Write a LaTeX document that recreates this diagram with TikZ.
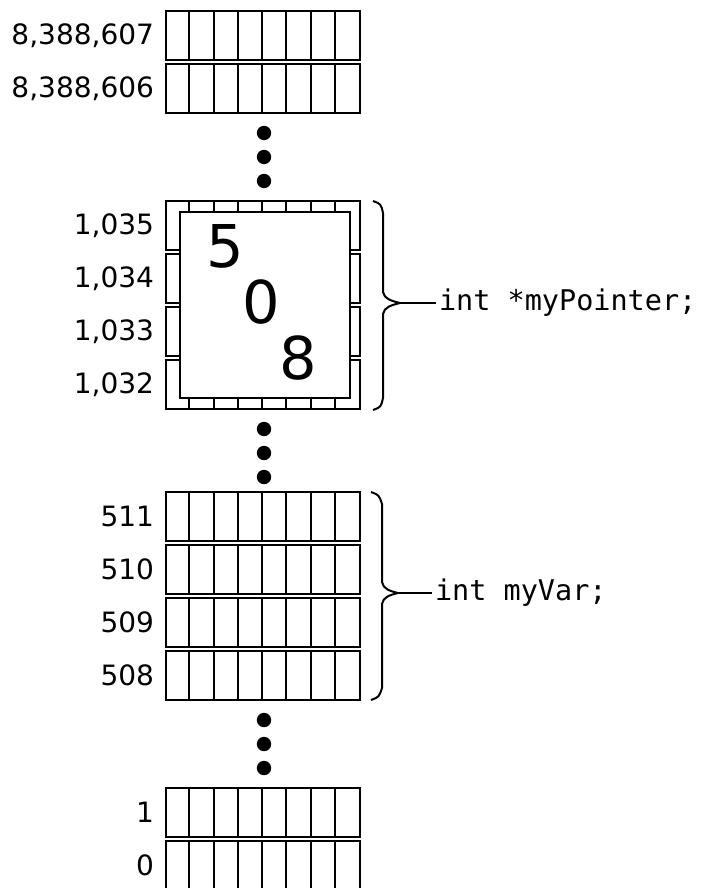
\documentclass[tikz,border=0pt]{standalone}
\usepackage{fontspec}
\setmainfont{DejaVu Sans}
\newfontfamily\declfont{DejaVu Sans Mono}
\newlength{\du}
\setlength{\du}{10\unitlength}
\tikzset{
  memrow/.style={draw, rectangle, minimum width=19.4\du, minimum height=4.9\du, inner sep=0pt},
  addrlbl/.style={anchor=east, inner sep=0pt, font=\fontsize{28pt}{30pt}\selectfont},
  bigdigit/.style={inner sep=0pt, font=\fontsize{59pt}{60pt}\selectfont},
  decllbl/.style={anchor=west, inner sep=0.2\du, font=\declfont\fontsize{28.5pt}{30pt}\selectfont}
}

\begin{document}
\begin{tikzpicture}
\pgftransformxscale{1.000000}
\pgftransformyscale{-1.000000}
\definecolor{dialinecolor}{rgb}{0.000000, 0.000000, 0.000000}
\pgfsetstrokecolor{dialinecolor}
\pgfsetfillcolor{dialinecolor}
\pgfsetlinewidth{0.200000\du}
\path[use as bounding box, fill=white] (0.000000\du,0.000000\du) rectangle (70.700000\du,88.800000\du);
% memory rows, eight bits each
\foreach \nm/\yy/\adr in {8388607/3.55/{8,388,607}, 8388606/8.85/{8,388,606},
    1035/22.55/{1,035}, 1034/27.85/{1,034}, 1033/33.15/{1,033}, 1032/38.45/{1,032},
    511/51.65/511, 510/56.95/510, 509/62.25/509, 508/67.55/508, 1/81.25/1, 0/86.55/0}{
  \node[memrow] (r\nm) at (26.300000\du,\yy\du){};
  \foreach \k in {1,...,7}
    \draw ([xshift=\k*2.425\du]r\nm.north west)--([xshift=\k*2.425\du]r\nm.south west);
  \node[addrlbl] (a\nm) at ([xshift=-1.000000\du]r\nm.west){\adr};
}
% value held by the pointer
\node[draw, fill=white, minimum width=17.000000\du, minimum height=18.600000\du, inner sep=0pt] (ptrbox) at (26.500000\du,30.500000\du){};
\node[bigdigit] (d5) at (22.500000\du,24.600000\du){5};
\node[bigdigit] (d0) at (26.100000\du,30.200000\du){0};
\node[bigdigit] (d8) at (29.800000\du,35.800000\du){8};
% ellipsis dots
\foreach \yy in {13.3,15.7,18.1,42.9,45.3,47.7,72.0,74.4,76.8}
  \fill (26.400000\du,\yy\du) circle (0.720000\du);
% brace for the pointer
\draw (37.300000\du,20.100000\du) .. controls (38.100000\du,20.400000\du) .. (38.300000\du,21.300000\du)
  --(38.300000\du,29.200000\du) .. controls (38.400000\du,29.900000\du) and (39.200000\du,30.100000\du) .. (40.000000\du,30.300000\du)
  .. controls (39.200000\du,30.500000\du) and (38.400000\du,30.700000\du) .. (38.300000\du,31.400000\du)
  --(38.300000\du,39.800000\du) .. controls (38.100000\du,40.700000\du) .. (37.300000\du,41.000000\du);
\coordinate (ptrtip) at (40.000000\du,30.300000\du);
\node[decllbl] (ptrdecl) at (43.600000\du,30.300000\du){int *myPointer;};
\draw (ptrtip)--(ptrdecl.west);
% brace for the int
\draw (37.100000\du,49.200000\du) .. controls (37.900000\du,49.500000\du) .. (38.200000\du,50.400000\du)
  --(38.200000\du,58.200000\du) .. controls (38.300000\du,58.900000\du) and (39.000000\du,59.100000\du) .. (39.800000\du,59.300000\du)
  .. controls (39.000000\du,59.500000\du) and (38.300000\du,59.700000\du) .. (38.200000\du,60.400000\du)
  --(38.200000\du,68.800000\du) .. controls (37.900000\du,69.700000\du) .. (37.100000\du,70.000000\du);
\coordinate (vartip) at (39.800000\du,59.300000\du);
\node[decllbl] (vardecl) at (43.200000\du,59.300000\du){int myVar;};
\draw (vartip)--(vardecl.west);
\end{tikzpicture}
\end{document}
